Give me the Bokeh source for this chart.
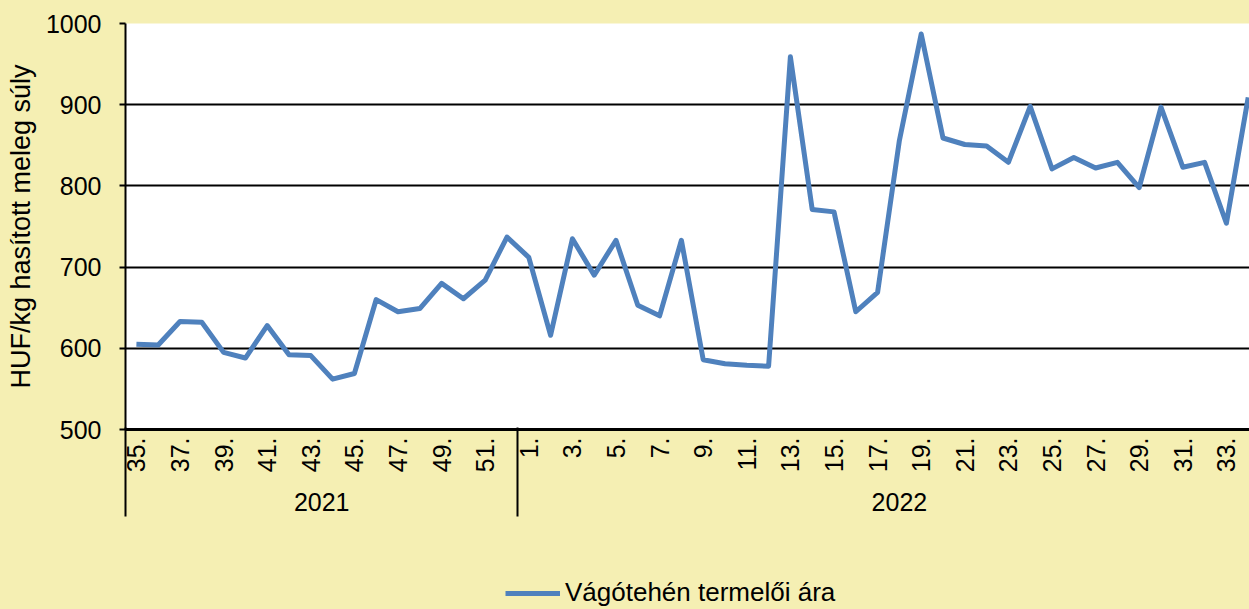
from math import pi
from bokeh.plotting import figure
from bokeh.layouts import column
from bokeh.models import Range1d, LinearAxis, FixedTicker, Grid, ColumnDataSource
from bokeh.embed import file_html
from bokeh.resources import INLINE

# ---- data ----
years = ["2021", "2022"]
weeks_2021 = list(range(35, 53))
weeks_2022 = list(range(1, 35))
prices_2021 = [605, 604, 633, 632, 595, 588, 628, 592, 591, 562, 569, 660,
               645, 649, 680, 661, 684, 737]
prices_2022 = [712, 616, 735, 690, 733, 653, 640, 733, 586, 581, 579, 578,
               959, 771, 768, 645, 669, 856, 987, 859, 851, 849, 829, 898,
               821, 835, 822, 829, 798, 897, 823, 829, 754, 909]
y_ticks = [500, 600, 700, 800, 900, 1000]
series_name = "Vágótehén termelői ára"
y_label = "HUF/kg hasított meleg súly"

weeks = weeks_2021 + weeks_2022
prices = prices_2021 + prices_2022
idx = list(range(len(weeks)))
src = ColumnDataSource(dict(x=idx, y=prices))

FONT = "Liberation Sans"
BG = "#F5EFB3"
LINE = "#4F81BD"

p = figure(width=1249, height=555,
           x_range=Range1d(-0.5, 51.06), y_range=Range1d(500, 1000),
           output_backend="svg", toolbar_location=None,
           x_axis_type=None, y_axis_type=None,
           min_border_left=125, min_border_right=0,
           min_border_top=23, min_border_bottom=126)
p.background_fill_color = "white"
p.border_fill_color = BG
p.outline_line_color = None

# y axis
yticker = FixedTicker(ticks=y_ticks)
yaxis = LinearAxis(ticker=yticker, axis_label=y_label)
yaxis.axis_line_color = "black"
yaxis.axis_line_width = 2
yaxis.major_tick_out = 6
yaxis.major_tick_in = 0
yaxis.major_tick_line_color = "black"
yaxis.major_tick_line_width = 2
yaxis.minor_tick_line_color = None
yaxis.major_label_standoff = 18
yaxis.major_label_text_font = FONT
yaxis.major_label_text_font_size = "25px"
yaxis.major_label_text_color = "black"
yaxis.axis_label_text_font = FONT
yaxis.axis_label_text_font_size = "27px"
yaxis.axis_label_text_font_style = "normal"
yaxis.axis_label_text_color = "black"
yaxis.axis_label_standoff = 7
p.add_layout(yaxis, "left")

p.add_layout(Grid(dimension=1, ticker=yticker, grid_line_color="black",
                  grid_line_width=2))

# week axis
n2021 = len(weeks_2021)
wk_ticks = [i for i in idx if i % 2 == 0]
wk_axis = LinearAxis(ticker=FixedTicker(ticks=wk_ticks))
wk_axis.major_label_overrides = {i: f"{weeks[i]}." for i in wk_ticks}
wk_axis.major_label_orientation = pi / 2
wk_axis.major_tick_out = 0
wk_axis.major_tick_in = 0
wk_axis.major_tick_line_color = None
wk_axis.minor_tick_line_color = None
wk_axis.axis_line_color = "black"
wk_axis.axis_line_width = 3
wk_axis.major_label_standoff = 8
wk_axis.major_label_text_font = FONT
wk_axis.major_label_text_font_size = "25px"
wk_axis.major_label_text_color = "black"
p.add_layout(wk_axis, "below")

# year axis
yr_pos = [(n2021 - 1) / 2, n2021 + (len(weeks_2022) - 1) / 2 + 0.5]
yr_axis = LinearAxis(ticker=FixedTicker(ticks=yr_pos))
yr_axis.major_label_overrides = {yr_pos[0]: years[0], yr_pos[1]: years[1]}
yr_axis.axis_line_color = None
yr_axis.major_tick_line_color = None
yr_axis.minor_tick_line_color = None
yr_axis.major_label_standoff = 11
yr_axis.major_label_text_font = FONT
yr_axis.major_label_text_font_size = "25px"
yr_axis.major_label_text_color = "black"
p.add_layout(yr_axis, "below")

# group separator axis (minor ticks reaching up to the plot frame)
sep_axis = LinearAxis(ticker=FixedTicker(ticks=[n2021 - 0.5],
                                         minor_ticks=[-0.5, n2021 - 0.5]))
sep_axis.major_label_overrides = {n2021 - 0.5: " "}
sep_axis.major_label_text_font_size = "6px"
sep_axis.major_label_standoff = 0
sep_axis.axis_line_color = None
sep_axis.major_tick_line_color = None
sep_axis.major_tick_out = 0
sep_axis.major_tick_in = 0
sep_axis.minor_tick_line_color = "black"
sep_axis.minor_tick_line_width = 2
sep_axis.minor_tick_in = 86
sep_axis.minor_tick_out = 3
p.add_layout(sep_axis, "below")

p.line("x", "y", source=src, line_width=5, line_color=LINE,
       line_join="round")

# legend strip (separate figure so the legend sits below the axes)
leg_fig = figure(width=1249, height=54, x_range=Range1d(0, 10),
                 y_range=Range1d(0, 10), output_backend="svg",
                 toolbar_location=None, x_axis_type=None, y_axis_type=None,
                 min_border_left=125, min_border_right=0,
                 min_border_top=0, min_border_bottom=0)
leg_fig.background_fill_color = BG
leg_fig.border_fill_color = BG
leg_fig.outline_line_color = None
leg_fig.grid.visible = False
# renderer kept outside the visible range: only its legend entry is shown
leg_fig.line(x=[-100, -90], y=[-100, -100], line_width=5, line_color=LINE,
             legend_label=series_name)
lg = leg_fig.legend[0]
lg.background_fill_alpha = 0
lg.border_line_color = None
lg.padding = 0
lg.margin = 0
lg.spacing = 0
lg.glyph_width = 55
lg.label_standoff = 5
lg.label_text_font = FONT
lg.label_text_font_size = "26px"
lg.label_text_color = "black"
lg.location = (380, 1)

layout = column(p, leg_fig, spacing=0)
layout.styles = {"background-color": BG}
open("out.html", "w").write(file_html(layout, INLINE))
